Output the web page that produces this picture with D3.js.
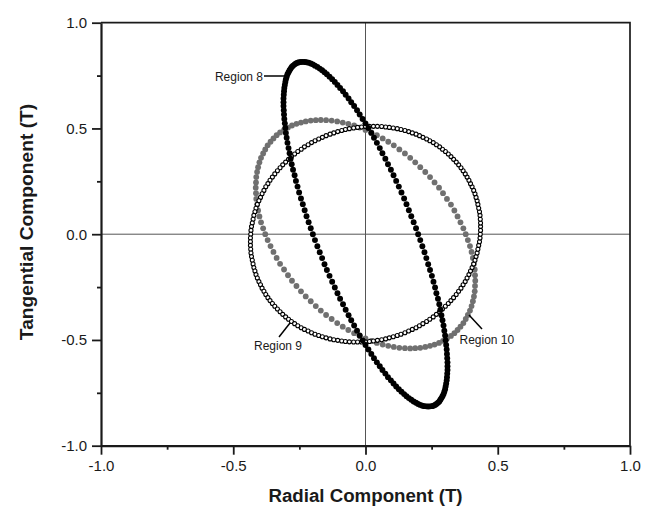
<!DOCTYPE html>
<html>
<head>
<meta charset="utf-8">
<script src="https://cdn.jsdelivr.net/npm/d3@7"></script>
<style>
  body { margin: 0; background: #fff; }
  svg { display: block; font-family: "Liberation Sans", Arial, sans-serif; }
</style>
</head>
<body>
<svg id="chart" width="655" height="512"></svg>
<script>
// Region 8 (solid black dots), radial / tangential components in T
const region8X = [
  0.310,0.310,0.309,0.308,0.307,0.305,0.303,0.301,0.298,0.295,0.291,0.287,0.283,0.279,0.274,0.268,0.263,0.257,0.251,0.244,0.237,0.230,0.223,0.215,0.207,0.199,0.191,0.182,0.173,0.164,0.155,0.146,0.136,0.126,0.116,0.106,0.096,0.085,0.075,0.064,0.054,0.043,0.032,0.022,0.011,0.000,
  -0.011,-0.022,-0.032,-0.043,-0.054,-0.064,-0.075,-0.085,-0.096,-0.106,-0.116,-0.126,-0.136,-0.146,-0.155,-0.164,-0.173,-0.182,-0.191,-0.199,-0.207,-0.215,-0.223,-0.230,-0.237,-0.244,-0.251,-0.257,-0.263,-0.268,-0.274,-0.279,-0.283,-0.287,-0.291,-0.295,-0.298,-0.301,-0.303,-0.305,-0.307,-0.308,-0.309,-0.310,-0.310,
  -0.310,-0.309,-0.308,-0.307,-0.305,-0.303,-0.301,-0.298,-0.295,-0.291,-0.287,-0.283,-0.279,-0.274,-0.268,-0.263,-0.257,-0.251,-0.244,-0.237,-0.230,-0.223,-0.215,-0.207,-0.199,-0.191,-0.182,-0.173,-0.164,-0.155,-0.146,-0.136,-0.126,-0.116,-0.106,-0.096,-0.085,-0.075,-0.064,-0.054,-0.043,-0.032,-0.022,-0.011,0.000,
  0.011,0.022,0.032,0.043,0.054,0.064,0.075,0.085,0.096,0.106,0.116,0.126,0.136,0.146,0.155,0.164,0.173,0.182,0.191,0.199,0.207,0.215,0.223,0.230,0.237,0.244,0.251,0.257,0.263,0.268,0.274,0.279,0.283,0.287,0.291,0.295,0.298,0.301,0.303,0.305,0.307,0.308,0.309,0.310
];
const region8Y = [
  -0.624,-0.606,-0.586,-0.566,-0.545,-0.524,-0.502,-0.479,-0.456,-0.432,-0.407,-0.383,-0.357,-0.331,-0.305,-0.279,-0.252,-0.225,-0.197,-0.169,-0.142,-0.113,-0.085,-0.057,-0.028,0.000,
  0.028,0.057,0.085,0.113,0.142,0.169,0.197,0.225,0.252,0.279,0.305,0.331,0.357,0.383,0.407,0.432,0.456,0.479,0.502,0.524,0.545,0.566,0.586,0.606,0.624,0.642,0.659,0.676,0.691,0.706,0.720,0.733,0.745,0.756,0.766,0.775,0.783,0.791,0.797,0.803,0.807,0.811,0.813,0.814,
  0.815,0.814,0.813,0.811,0.807,0.803,0.797,0.791,0.783,0.775,0.766,0.756,0.745,0.733,0.720,0.706,0.691,0.676,0.659,0.642,0.624,0.606,0.586,0.566,0.545,0.524,0.502,0.479,0.456,0.432,0.407,0.383,0.357,0.331,0.305,0.279,0.252,0.225,0.197,0.169,0.142,0.113,0.085,0.057,0.028,0.000,
  -0.028,-0.057,-0.085,-0.113,-0.142,-0.169,-0.197,-0.225,-0.252,-0.279,-0.305,-0.331,-0.357,-0.383,-0.407,-0.432,-0.456,-0.479,-0.502,-0.524,-0.545,-0.566,-0.586,-0.606,-0.624,-0.642,-0.659,-0.676,-0.691,-0.706,-0.720,-0.733,-0.745,-0.756,-0.766,-0.775,-0.783,-0.791,-0.797,-0.803,-0.807,-0.811,-0.813,-0.814,-0.815,
  -0.814,-0.813,-0.811,-0.807,-0.803,-0.797,-0.791,-0.783,-0.775,-0.766,-0.756,-0.745,-0.733,-0.720,-0.706,-0.691,-0.676,-0.659,-0.642
];

// Region 9 (open circles)
const region9X = [
  0.435,0.435,0.434,0.433,0.431,0.428,0.425,0.422,0.418,0.414,0.409,0.403,0.397,0.391,0.384,0.377,0.369,0.361,0.352,0.343,0.333,0.323,0.313,0.302,0.291,0.280,0.268,0.256,0.243,0.231,0.217,0.204,0.191,0.177,0.163,0.149,0.134,0.120,0.105,0.090,0.076,0.061,0.045,0.030,0.015,0.000,
  -0.015,-0.030,-0.045,-0.061,-0.076,-0.090,-0.105,-0.120,-0.134,-0.149,-0.163,-0.177,-0.191,-0.204,-0.217,-0.231,-0.243,-0.256,-0.268,-0.280,-0.291,-0.302,-0.313,-0.323,-0.333,-0.343,-0.352,-0.361,-0.369,-0.377,-0.384,-0.391,-0.397,-0.403,-0.409,-0.414,-0.418,-0.422,-0.425,-0.428,-0.431,-0.433,-0.434,-0.435,-0.435,
  -0.435,-0.434,-0.433,-0.431,-0.428,-0.425,-0.422,-0.418,-0.414,-0.409,-0.403,-0.397,-0.391,-0.384,-0.377,-0.369,-0.361,-0.352,-0.343,-0.333,-0.323,-0.313,-0.302,-0.291,-0.280,-0.268,-0.256,-0.243,-0.231,-0.217,-0.204,-0.191,-0.177,-0.163,-0.149,-0.134,-0.120,-0.105,-0.090,-0.076,-0.061,-0.045,-0.030,-0.015,0.000,
  0.015,0.030,0.045,0.061,0.076,0.090,0.105,0.120,0.134,0.149,0.163,0.177,0.191,0.204,0.217,0.231,0.243,0.256,0.268,0.280,0.291,0.302,0.313,0.323,0.333,0.343,0.352,0.361,0.369,0.377,0.384,0.391,0.397,0.403,0.409,0.414,0.418,0.422,0.425,0.428,0.431,0.433,0.434,0.435
];
const region9Y = [
  0.036,0.053,0.071,0.089,0.106,0.123,0.141,0.158,0.174,0.191,0.207,0.224,0.239,0.255,0.270,0.285,0.300,0.314,0.328,0.341,0.354,0.367,0.379,0.391,0.402,0.413,0.423,0.433,0.442,0.450,0.458,0.466,0.473,0.479,0.485,0.490,0.495,0.499,0.502,0.505,0.507,0.509,0.510,
  0.510,0.510,0.509,0.507,0.505,0.502,0.499,0.495,0.490,0.485,0.479,0.473,0.466,0.458,0.450,0.442,0.433,0.423,0.413,0.402,0.391,0.379,0.367,0.354,0.341,0.328,0.314,0.300,0.285,0.270,0.255,0.239,0.224,0.207,0.191,0.174,0.158,0.141,0.123,0.106,0.089,0.071,0.053,0.036,0.018,0.000,
  -0.018,-0.036,-0.053,-0.071,-0.089,-0.106,-0.123,-0.141,-0.158,-0.174,-0.191,-0.207,-0.224,-0.239,-0.255,-0.270,-0.285,-0.300,-0.314,-0.328,-0.341,-0.354,-0.367,-0.379,-0.391,-0.402,-0.413,-0.423,-0.433,-0.442,-0.450,-0.458,-0.466,-0.473,-0.479,-0.485,-0.490,-0.495,-0.499,-0.502,-0.505,-0.507,-0.509,-0.510,-0.510,
  -0.510,-0.509,-0.507,-0.505,-0.502,-0.499,-0.495,-0.490,-0.485,-0.479,-0.473,-0.466,-0.458,-0.450,-0.442,-0.433,-0.423,-0.413,-0.402,-0.391,-0.379,-0.367,-0.354,-0.341,-0.328,-0.314,-0.300,-0.285,-0.270,-0.255,-0.239,-0.224,-0.207,-0.191,-0.174,-0.158,-0.141,-0.123,-0.106,-0.089,-0.071,-0.053,-0.036,-0.018,0.000,
  0.018
];

// Region 10 (solid gray dots)
const region10X = [
  0.415,0.414,0.413,0.410,0.406,0.401,0.395,0.387,0.379,0.370,0.359,0.348,0.336,0.323,0.308,0.293,0.278,0.261,0.244,0.226,0.207,0.188,0.169,0.149,0.128,0.107,0.086,0.065,0.043,0.022,0.000,
  -0.022,-0.043,-0.065,-0.086,-0.107,-0.128,-0.149,-0.169,-0.188,-0.207,-0.226,-0.244,-0.261,-0.278,-0.293,-0.308,-0.323,-0.336,-0.348,-0.359,-0.370,-0.379,-0.387,-0.395,-0.401,-0.406,-0.410,-0.413,-0.414,-0.415,
  -0.414,-0.413,-0.410,-0.406,-0.401,-0.395,-0.387,-0.379,-0.370,-0.359,-0.348,-0.336,-0.323,-0.308,-0.293,-0.278,-0.261,-0.244,-0.226,-0.207,-0.188,-0.169,-0.149,-0.128,-0.107,-0.086,-0.065,-0.043,-0.022,0.000,
  0.022,0.043,0.065,0.086,0.107,0.128,0.149,0.169,0.188,0.207,0.226,0.244,0.261,0.278,0.293,0.308,0.323,0.336,0.348,0.359,0.370,0.379,0.387,0.395,0.401,0.406,0.410,0.413,0.414
];
const region10Y = [
  -0.220,-0.194,-0.167,-0.140,-0.112,-0.084,-0.056,-0.028,0.000,
  0.028,0.056,0.084,0.112,0.140,0.167,0.194,0.220,0.245,0.270,0.294,0.317,0.340,0.361,0.382,0.401,0.420,0.437,0.453,0.468,0.481,0.493,0.504,0.514,0.522,0.528,0.533,0.537,0.539,
  0.540,0.539,0.537,0.533,0.528,0.522,0.514,0.504,0.493,0.481,0.468,0.453,0.437,0.420,0.401,0.382,0.361,0.340,0.317,0.294,0.270,0.245,0.220,0.194,0.167,0.140,0.112,0.084,0.056,0.028,0.000,
  -0.028,-0.056,-0.084,-0.112,-0.140,-0.167,-0.194,-0.220,-0.245,-0.270,-0.294,-0.317,-0.340,-0.361,-0.382,-0.401,-0.420,-0.437,-0.453,-0.468,-0.481,-0.493,-0.504,-0.514,-0.522,-0.528,-0.533,-0.537,-0.539,-0.540,
  -0.539,-0.537,-0.533,-0.528,-0.522,-0.514,-0.504,-0.493,-0.481,-0.468,-0.453,-0.437,-0.420,-0.401,-0.382,-0.361,-0.340,-0.317,-0.294,-0.270,-0.245
];

const majorTicks = [-1, -0.5, 0, 0.5, 1];
const minorTicks = [-0.75, -0.25, 0.25, 0.75];

const svg = d3.select('#chart');
const font = '"Liberation Sans", Arial, sans-serif';
const ink = '#1a1a1a';

const x = d3.scaleLinear().domain([-1, 1]).range([101, 630]);
const y = d3.scaleLinear().domain([-1, 1]).range([445.7, 22.7]);

// zero lines
svg.append('line')
  .attr('x1', x(0)).attr('x2', x(0))
  .attr('y1', y(1)).attr('y2', y(-1))
  .attr('stroke', '#555').attr('stroke-width', 1);
svg.append('line')
  .attr('x1', x(-1)).attr('x2', x(1))
  .attr('y1', y(0)).attr('y2', y(0))
  .attr('stroke', '#555').attr('stroke-width', 1);

// top and right frame
svg.append('path')
  .attr('d', `M${x(-1)},${y(1)}H${x(1)}V${y(-1)}`)
  .attr('fill', 'none')
  .attr('stroke', ink)
  .attr('stroke-width', 1.7);

const fmt = d => d.toFixed(1);

svg.append('g')
  .attr('transform', `translate(0,${y(-1)})`)
  .call(d3.axisBottom(x).tickValues(majorTicks).tickFormat(fmt)
    .tickSize(9).tickSizeOuter(0).tickPadding(6));
svg.append('g')
  .attr('transform', `translate(0,${y(-1)})`)
  .call(d3.axisBottom(x).tickValues(minorTicks).tickFormat('')
    .tickSize(4).tickSizeOuter(0))
  .select('.domain').remove();

svg.append('g')
  .attr('transform', `translate(${x(-1)},0)`)
  .call(d3.axisLeft(y).tickValues(majorTicks).tickFormat(fmt)
    .tickSize(9).tickSizeOuter(0).tickPadding(5));
svg.append('g')
  .attr('transform', `translate(${x(-1)},0)`)
  .call(d3.axisLeft(y).tickValues(minorTicks).tickFormat('')
    .tickSize(4).tickSizeOuter(0))
  .select('.domain').remove();

svg.selectAll('.domain').attr('stroke', ink).attr('stroke-width', 2.2);
svg.selectAll('.tick line').attr('stroke', ink).attr('stroke-width', 1.8);
svg.selectAll('.tick text')
  .attr('font-family', font)
  .attr('font-size', 15)
  .attr('fill', ink);

// axis titles
svg.append('text')
  .attr('x', x(0)).attr('y', 502)
  .attr('text-anchor', 'middle')
  .attr('font-family', font).attr('font-weight', 'bold').attr('font-size', 18.7)
  .attr('fill', ink)
  .text('Radial Component (T)');
svg.append('text')
  .attr('transform', 'translate(33,222) rotate(-90)')
  .attr('text-anchor', 'middle')
  .attr('font-family', font).attr('font-weight', 'bold').attr('font-size', 19.2)
  .attr('fill', ink)
  .text('Tangential Component (T)');

// data
svg.append('g')
  .selectAll('circle')
  .data(d3.zip(region10X, region10Y))
  .join('circle')
    .attr('cx', d => x(d[0]))
    .attr('cy', d => y(d[1]))
    .attr('r', 2.9)
    .attr('fill', '#707070');

svg.append('g')
  .selectAll('circle')
  .data(d3.zip(region9X, region9Y))
  .join('circle')
    .attr('cx', d => x(d[0]))
    .attr('cy', d => y(d[1]))
    .attr('r', 2.0)
    .attr('fill', '#fff')
    .attr('stroke', '#000')
    .attr('stroke-width', 1.1);

svg.append('g')
  .selectAll('circle')
  .data(d3.zip(region8X, region8Y))
  .join('circle')
    .attr('cx', d => x(d[0]))
    .attr('cy', d => y(d[1]))
    .attr('r', 2.95)
    .attr('fill', '#000');

// region labels with leader lines
const notes = [
  {text: 'Region 8', tx: 263, ty: 80.5, anchor: 'end', line: [264, 76, 287, 76]},
  {text: 'Region 9', tx: 254, ty: 350, anchor: 'start', line: [279, 337, 290, 323]},
  {text: 'Region 10', tx: 459.5, ty: 343.5, anchor: 'start', line: [482, 329, 469, 315]}
];
notes.forEach(n => {
  svg.append('line')
    .attr('x1', n.line[0]).attr('y1', n.line[1])
    .attr('x2', n.line[2]).attr('y2', n.line[3])
    .attr('stroke', '#000').attr('stroke-width', 1.5);
  svg.append('text')
    .attr('x', n.tx).attr('y', n.ty)
    .attr('text-anchor', n.anchor)
    .attr('font-family', font).attr('font-size', 12)
    .attr('fill', ink)
    .text(n.text);
});
</script>
</body>
</html>
